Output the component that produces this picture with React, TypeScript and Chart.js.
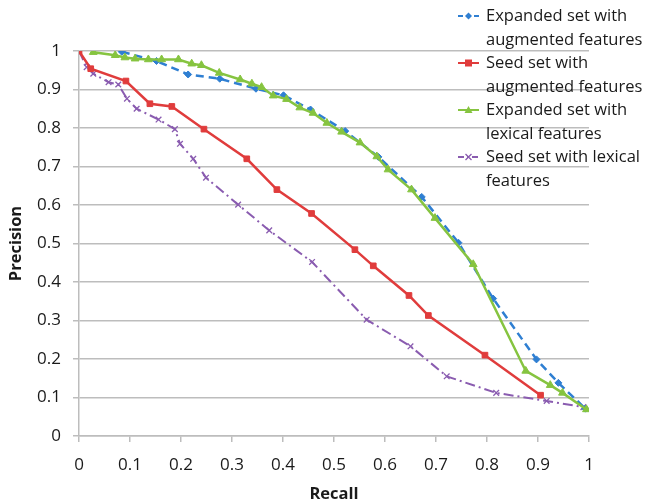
import React, { useEffect, useRef } from "react";
import { Chart, registerables } from "chart.js";

Chart.register(...registerables);

const seriesNames = [
  ["Expanded set with", "augmented features"],
  ["Seed set with", "augmented features"],
  ["Expanded set with", "lexical features"],
  ["Seed set with lexical", "features"],
];

const xTickLabels = ["0", "0.1", "0.2", "0.3", "0.4", "0.5", "0.6", "0.7", "0.8", "0.9", "1"];

const expAugRecall = [0.084, 0.152, 0.214, 0.276, 0.347, 0.401, 0.454, 0.522, 0.587, 0.672, 0.744, 0.812, 0.897, 0.94, 0.993];
const expAugPrecision = [0.998, 0.974, 0.939, 0.928, 0.902, 0.885, 0.848, 0.792, 0.725, 0.621, 0.502, 0.357, 0.199, 0.138, 0.071];

const seedAugRecall = [0, 0.023, 0.092, 0.139, 0.182, 0.245, 0.329, 0.388, 0.456, 0.541, 0.577, 0.647, 0.685, 0.796, 0.905];
const seedAugPrecision = [1, 0.954, 0.922, 0.863, 0.856, 0.797, 0.72, 0.64, 0.578, 0.484, 0.442, 0.365, 0.313, 0.21, 0.106];

const expLexRecall = [0.028, 0.071, 0.09, 0.11, 0.136, 0.162, 0.195, 0.221, 0.24, 0.275, 0.316, 0.339, 0.358, 0.381, 0.407, 0.433, 0.459, 0.486, 0.515, 0.551, 0.584, 0.606, 0.652, 0.698, 0.773, 0.876, 0.924, 0.948, 0.995];
const expLexPrecision = [0.997, 0.989, 0.983, 0.98, 0.978, 0.978, 0.978, 0.967, 0.963, 0.943, 0.926, 0.915, 0.906, 0.884, 0.875, 0.853, 0.839, 0.813, 0.79, 0.762, 0.726, 0.692, 0.64, 0.566, 0.446, 0.169, 0.132, 0.112, 0.069];

const seedLexRecall = [0, 0.015, 0.028, 0.058, 0.077, 0.094, 0.113, 0.156, 0.188, 0.198, 0.224, 0.249, 0.312, 0.373, 0.457, 0.564, 0.65, 0.721, 0.818, 0.917, 0.989];
const seedLexPrecision = [1, 0.958, 0.941, 0.919, 0.913, 0.876, 0.85, 0.822, 0.797, 0.759, 0.72, 0.671, 0.601, 0.534, 0.452, 0.302, 0.233, 0.155, 0.112, 0.091, 0.075];

const colors = ["#2f7fd2", "#e03c3c", "#86c440", "#8a5cb0"];
const pointStyles = ["rectRot", "rect", "triangle", "crossRot"];
const dashes = [[8, 5], [], [], [10, 4, 2, 4]];

const FONT = "'Open Sans', 'Liberation Sans', sans-serif";

function pts(xs: number[], ys: number[]) {
  return xs.map((x, i) => ({ x, y: ys[i] }));
}

const legendPlugin = {
  id: "customLegend",
  afterDraw(chart: any) {
    const ctx = chart.ctx;
    const ys = [16, 63, 110, 157];
    ctx.save();
    chart.data.datasets.forEach((ds: any, i: number) => {
      const y = ys[i];
      ctx.strokeStyle = ds.borderColor;
      ctx.lineWidth = 2;
      ctx.setLineDash(i === 0 ? [5, 3] : i === 3 ? [6, 3, 2, 3] : []);
      ctx.beginPath();
      ctx.moveTo(458, y);
      ctx.lineTo(479, y);
      ctx.stroke();
      ctx.setLineDash([]);
      ctx.fillStyle = ds.borderColor;
      ctx.strokeStyle = ds.borderColor;
      const cx = 468.5;
      if (i === 0) {
        ctx.beginPath();
        ctx.moveTo(cx, y - 3.5);
        ctx.lineTo(cx + 3.5, y);
        ctx.lineTo(cx, y + 3.5);
        ctx.lineTo(cx - 3.5, y);
        ctx.closePath();
        ctx.fill();
      } else if (i === 1) {
        ctx.fillRect(cx - 3.5, y - 3.5, 7, 7);
      } else if (i === 2) {
        ctx.beginPath();
        ctx.moveTo(cx, y - 4);
        ctx.lineTo(cx + 4, y + 3);
        ctx.lineTo(cx - 4, y + 3);
        ctx.closePath();
        ctx.fill();
      } else {
        ctx.lineWidth = 1.3;
        ctx.beginPath();
        ctx.moveTo(cx - 3, y - 3);
        ctx.lineTo(cx + 3, y + 3);
        ctx.moveTo(cx + 3, y - 3);
        ctx.lineTo(cx - 3, y + 3);
        ctx.stroke();
      }
      ctx.fillStyle = "#1a1a1a";
      ctx.font = `16.5px ${FONT}`;
      ctx.textBaseline = "middle";
      ctx.textAlign = "left";
      const lines: string[] = ds.legendLines;
      lines.forEach((t, k) => ctx.fillText(t, 486, y + k * 24));
    });
    ctx.restore();
  },
};

export default function App() {
  const ref = useRef<HTMLCanvasElement>(null);
  useEffect(() => {
    document.body.style.margin = "0";
    const canvas = ref.current!;
    const seriesData = [
      pts(expAugRecall, expAugPrecision),
      pts(seedAugRecall, seedAugPrecision),
      pts(expLexRecall, expLexPrecision),
      pts(seedLexRecall, seedLexPrecision),
    ];
    const orders = [2, 1, 0, 3];
    const radii = [3.5, 4, 4.5, 4];
    const chart = new Chart(canvas, {
      type: "line",
      data: {
        datasets: seriesData.map((d, i) => ({
          label: seriesNames[i].join(" "),
          legendLines: seriesNames[i],
          data: d,
          borderColor: colors[i],
          backgroundColor: colors[i],
          borderWidth: i === 3 ? 2 : 2.5,
          borderDash: dashes[i],
          pointStyle: pointStyles[i],
          pointRadius: radii[i],
          pointBorderWidth: i === 3 ? 1.3 : 1,
          pointBorderColor: colors[i],
          pointBackgroundColor: colors[i],
          tension: 0,
          fill: false,
          order: orders[i],
        })) as any,
      },
      options: {
        animation: false,
        responsive: false,
        layout: { padding: { left: 0, right: 58, top: 51, bottom: 0 } },
        plugins: { legend: { display: false }, tooltip: { enabled: false } },
        scales: {
          x: {
            type: "linear",
            min: 0,
            max: 1,
            afterFit: (s: any) => { s.height = 68; },
            afterBuildTicks: (s: any) => {
              s.ticks = xTickLabels.map((t) => ({ value: parseFloat(t) }));
            },
            ticks: {
              callback: (v: any, i: number) => xTickLabels[i],
              font: { family: FONT, size: 17 },
              color: "#1a1a1a",
              padding: 13,
              maxRotation: 0,
            },
            grid: { drawOnChartArea: false, drawTicks: true, tickLength: 6, color: "#bdbdbd", lineWidth: 1.5 },
            border: { color: "#bdbdbd", width: 1.5 },
            title: { display: true, text: "Recall", font: { family: FONT, size: 16.5, weight: "bold" }, color: "#1a1a1a", padding: { top: 0, bottom: 0 } },
          },
          y: {
            type: "linear",
            min: 0,
            max: 1,
            afterFit: (s: any) => { s.width = 79; },
            ticks: {
              stepSize: 0.1,
              callback: (v: any) => String(Math.round(v * 10) / 10),
              font: { family: FONT, size: 17 },
              color: "#1a1a1a",
              padding: 12,
            },
            grid: { drawTicks: true, tickLength: 6, color: "#bdbdbd", lineWidth: 1.5 },
            border: { color: "#bdbdbd", width: 1.5 },
            title: { display: true, text: "Precision", font: { family: FONT, size: 16.5, weight: "bold" }, color: "#1a1a1a", padding: { top: 6, bottom: 0 } },
          },
        },
      },
      plugins: [legendPlugin],
    } as any);
    return () => chart.destroy();
  }, []);
  return <canvas ref={ref} width={647} height={504} style={{ display: "block" }} />;
}
